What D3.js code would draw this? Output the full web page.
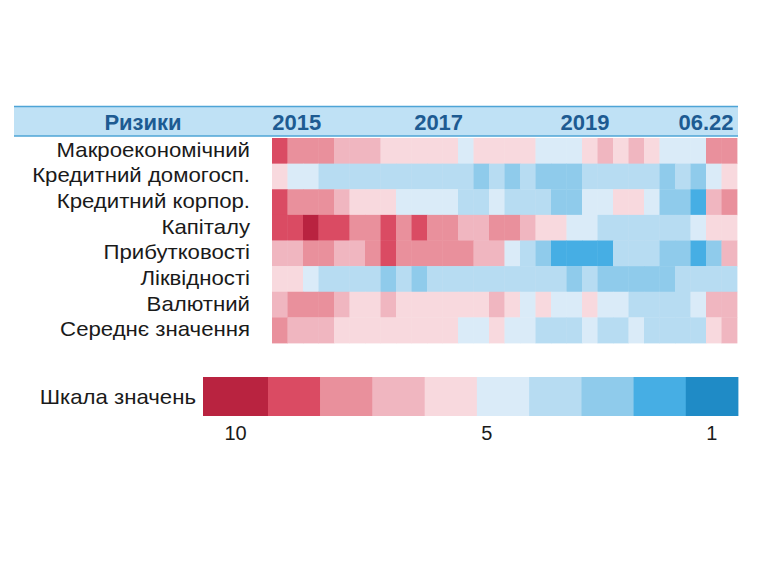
<!DOCTYPE html>
<html>
<head>
<meta charset="utf-8">
<script src="https://cdn.jsdelivr.net/npm/d3@7/dist/d3.min.js"></script>
<style>
  html, body { margin: 0; padding: 0; background: #ffffff; }
  svg { display: block; }
  text { font-family: "Liberation Sans", Arial, sans-serif; }
</style>
</head>
<body>
<svg id="chart" width="764" height="567"></svg>
<script>
// ---------------- DATA ----------------
const headerTitle = "Ризики";
const riskNames = [
  "Макроекономічний",
  "Кредитний домогосп.",
  "Кредитний корпор.",
  "Капіталу",
  "Прибутковості",
  "Ліквідності",
  "Валютний",
  "Середнє значення"
];
const periods = [
  "2015Q1","2015Q2","2015Q3","2015Q4",
  "2016Q1","2016Q2","2016Q3","2016Q4",
  "2017Q1","2017Q2","2017Q3","2017Q4",
  "2018Q1","2018Q2","2018Q3","2018Q4",
  "2019Q1","2019Q2","2019Q3","2019Q4",
  "2020Q1","2020Q2","2020Q3","2020Q4",
  "2021Q1","2021Q2","2021Q3","2021Q4",
  "2022Q1","2022Q2"
];
// header labels and where they sit on the period axis (in quarters from start)
const tickLabels = ["2015", "2017", "2019", "06.22"];
const tickQuarters = [1.6, 10.75, 20.2, 28.0];

// risk scores, 10 = highest risk, 1 = lowest
const macroRisk      = [9,8,8,8,7,7,7,6,6,6,6,6,5,6,6,6,6,5,5,5,6,7,6,7,6,5,5,5,8,8];
const householdRisk  = [6,5,5,4,4,4,4,4,4,4,4,4,4,3,4,3,4,3,3,3,4,4,4,4,4,3,4,3,5,6];
const corporateRisk  = [9,8,8,8,7,6,6,6,5,5,5,5,4,4,5,4,4,4,3,3,5,5,6,6,5,3,3,2,7,8];
const capitalRisk    = [9,9,10,9,9,8,8,9,8,9,8,8,7,7,8,8,7,6,6,5,5,4,4,4,4,4,4,5,6,6];
const profitRisk     = [7,7,8,8,7,7,8,9,8,8,8,8,8,7,7,5,4,3,2,2,2,2,4,4,4,3,3,2,3,7];
const liquidityRisk  = [6,6,5,4,4,4,4,3,4,3,4,4,4,4,4,4,4,4,4,3,4,3,3,3,3,3,4,4,4,4];
const currencyRisk   = [7,8,8,8,7,6,6,7,6,6,6,6,6,6,7,6,5,6,5,5,6,5,5,4,4,4,4,5,7,7];
const averageRisk    = [8,7,7,7,6,6,6,6,6,6,6,6,5,5,6,5,5,4,4,4,5,4,4,5,4,4,4,4,6,7];
const seriesValues = [macroRisk, householdRisk, corporateRisk, capitalRisk,
                      profitRisk, liquidityRisk, currencyRisk, averageRisk];

const legendTitle = "Шкала значень";
const scaleValues = [10, 9, 8, 7, 6, 5, 4, 3, 2, 1];
const scaleLabels = [10, 5, 1];

// ---------------- STYLE ----------------
const palette = ["#b92340", "#da4b63", "#e9909c", "#f0b6c0", "#f8d9de",
                 "#daebf8", "#b7dcf2", "#8fcbeb", "#46aee4", "#1f8bc6"];
const headerBlue = "#1d5b92";
const labelStretch = 1.11;

const svg = d3.select("#chart");

const x = d3.scaleBand().domain(periods).range([272, 737]);
const xq = d3.scaleLinear().domain([0, periods.length]).range(x.range());
const y = d3.scaleBand().domain(riskNames).range([138, 343]);
const color = d3.scaleOrdinal().domain(scaleValues).range(palette);

// header band
const header = svg.append("g");
header.append("rect")
  .attr("x", 14).attr("y", 106.5).attr("width", 724).attr("height", 29.5)
  .attr("fill", "#bfe1f5");
header.selectAll("line.hb").data([106.5, 136]).join("line")
  .attr("x1", 14).attr("x2", 738).attr("y1", d => d).attr("y2", d => d)
  .attr("stroke", "#4ea4d6").attr("stroke-width", 1.3);
header.append("text")
  .attr("x", 143).attr("y", 130)
  .attr("text-anchor", "middle")
  .attr("font-size", 22).attr("font-weight", "bold")
  .attr("fill", headerBlue)
  .text(headerTitle);
header.selectAll("text.tick").data(tickLabels).join("text")
  .attr("class", "tick")
  .attr("x", (d, i) => xq(tickQuarters[i]))
  .attr("y", 130)
  .attr("text-anchor", "middle")
  .attr("font-size", 22).attr("font-weight", "bold")
  .attr("fill", headerBlue)
  .text(d => d);

// cells
const cells = [];
riskNames.forEach((r, ri) => {
  periods.forEach((p, pi) => cells.push({risk: r, period: p, value: seriesValues[ri][pi]}));
});
svg.append("g").selectAll("rect").data(cells).join("rect")
  .attr("x", d => x(d.period))
  .attr("y", d => y(d.risk))
  .attr("width", x.bandwidth() + 0.4)
  .attr("height", y.bandwidth() + 0.4)
  .attr("fill", d => color(d.value));

// row labels
svg.append("g").selectAll("text").data(riskNames).join("text")
  .attr("transform", d => `translate(250,${y(d) + y.bandwidth() / 2 + 6}) scale(${labelStretch},1)`)
  .attr("text-anchor", "end")
  .attr("font-size", 20)
  .attr("fill", "#1a1a1a")
  .text(d => d);

// legend
const lg = svg.append("g");
const firstEnd = 268;
const lx = d3.scaleBand().domain(scaleValues.slice(1)).range([firstEnd, 738]);
function cellStart(v) { return v === scaleValues[0] ? 203 : lx(v); }
function cellWidth(v) { return v === scaleValues[0] ? firstEnd - 203 : lx.bandwidth(); }
lg.selectAll("rect").data(scaleValues).join("rect")
  .attr("x", d => cellStart(d))
  .attr("y", 377)
  .attr("width", d => cellWidth(d) + 0.4)
  .attr("height", 39)
  .attr("fill", d => color(d));
lg.append("text")
  .attr("transform", `translate(196,404) scale(${labelStretch},1)`)
  .attr("text-anchor", "end")
  .attr("font-size", 20)
  .attr("fill", "#1a1a1a")
  .text(legendTitle);
lg.selectAll("text.lbl").data(scaleLabels).join("text")
  .attr("class", "lbl")
  .attr("x", d => d === 5 ? cellStart(d) + 10 : cellStart(d) + cellWidth(d) / 2)
  .attr("y", 440)
  .attr("text-anchor", "middle")
  .attr("font-size", 20)
  .attr("fill", "#1a1a1a")
  .text(d => d);
</script>
</body>
</html>
